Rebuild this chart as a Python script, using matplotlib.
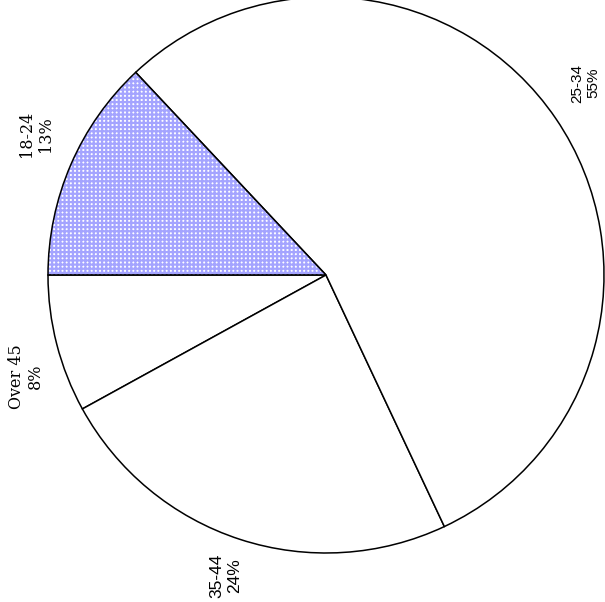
import matplotlib
matplotlib.use('Agg')
import numpy as np
import matplotlib.pyplot as plt
from matplotlib.patches import Wedge

groups = ['18-24', 'Over 45', '35-44', '25-34']
shares = [13, 8, 24, 55]
hatched = ['18-24']

plt.rcParams['font.family'] = ['DejaVu Serif']
plt.rcParams['hatch.linewidth'] = 1.6

# label look differs a bit per slice in the original
label_font = {
    '18-24': dict(family='DejaVu Serif', size=11.5),
    'Over 45': dict(family='DejaVu Serif', size=11.5),
    '35-44': dict(family='Liberation Sans', size=12.5),
    '25-34': dict(family='Liberation Sans', size=11),
}
label_shift = {'18-24': -2.6, 'Over 45': 4.3, '35-44': -0.4, '25-34': 2.3}
label_dist = {'18-24': 1.16, 'Over 45': 1.14, '35-44': 1.14, '25-34': 1.16}

fig = plt.figure(figsize=(6.05, 6.02), dpi=100)
# pie centre sits right of middle and the circle runs off the top/right edge
cx, cy, r = 326, 275, 278
ax = fig.add_axes([(cx - r) / 605, (602 - cy - r) / 602, 2 * r / 605, 2 * r / 602])

labels = [f'{g}\n{s}%' for g, s in zip(groups, shares)]
wedges, texts = ax.pie(shares, labels=labels, startangle=133.2, counterclock=True,
                       labeldistance=1.15,
                       colors=['white'] * len(shares),
                       wedgeprops=dict(edgecolor='black', linewidth=1.1))

for w, g in zip(wedges, groups):
    if g in hatched:
        ax.add_patch(Wedge(w.center, w.r, w.theta1, w.theta2, fill=False,
                           hatch='++++', edgecolor='#a4a4ff', linewidth=0, zorder=1.5))
        w.set_zorder(2)
        w.set_facecolor('none')

for w, g, t in zip(wedges, groups, texts):
    ang = np.deg2rad((w.theta1 + w.theta2) / 2 + label_shift[g])
    d = label_dist[g]
    t.set_position((d * np.cos(ang), d * np.sin(ang)))
    t.set_fontfamily(label_font[g]['family'])
    t.set_fontsize(label_font[g]['size'])
    t.set_rotation(90)
    t.set_ha('center')
    t.set_va('center')
    t.set_multialignment('center')
    t.set_clip_on(False)

ax.set_xlim(-1, 1)
ax.set_ylim(-1, 1)
ax.set_aspect('equal')
ax.axis('off')

fig.savefig('out.png', dpi=100)
